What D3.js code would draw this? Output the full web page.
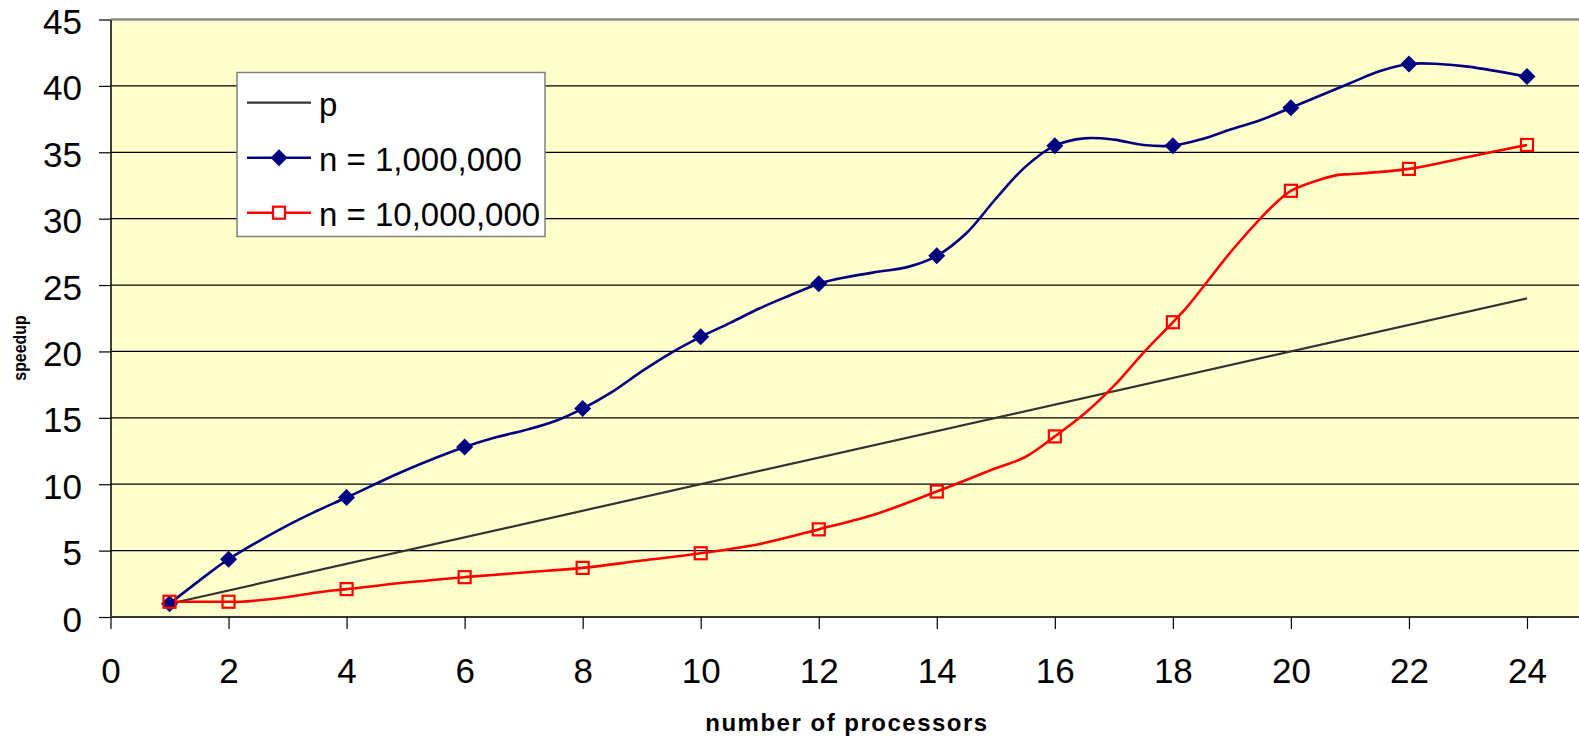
<!DOCTYPE html>
<html>
<head>
<meta charset="utf-8">
<script src="https://cdn.jsdelivr.net/npm/d3@7"></script>
<style>
  html, body { margin: 0; padding: 0; background: #ffffff; }
  svg { display: block; font-family: "Liberation Sans", Arial, Helvetica, sans-serif; }
</style>
</head>
<body>
<svg id="chart" width="1579" height="740"></svg>
<script>
// Processor counts and measured speedups
const idealP = [1, 24];

const smallProcs = [1, 1.7, 2, 3, 3.5, 4, 5, 6, 6.5, 7, 7.5, 8, 8.5, 9, 9.5, 10, 10.5, 11, 11.5, 12,
  12.25, 13, 13.5, 14, 14.5, 15, 15.5, 16, 16.5, 17, 17.5, 18, 18.5, 19, 19.5, 20, 21, 21.5, 22, 22.5, 23, 24];
const smallSpeedup = [1.0, 3.4, 4.35, 6.9, 8.0, 9.0, 11.05, 12.8, 13.5, 14.05, 14.7, 15.7, 16.95, 18.5, 19.9, 21.1, 22.15, 23.25, 24.2, 25.1,
  25.4, 26.0, 26.35, 27.2, 28.9, 31.5, 33.9, 35.5, 36.05, 35.95, 35.55, 35.5, 36.0, 36.75, 37.45, 38.35, 40.2, 41.1, 41.65, 41.65, 41.45, 40.7];

const largeProcs = [1, 2, 2.2, 3, 3.5, 4, 5, 6, 7, 8, 9, 10, 11, 12, 13, 14, 15, 15.5, 16, 16.5, 17, 17.5, 18, 18.25,
  19, 19.5, 19.75, 20, 20.5, 20.8, 21, 22, 23, 24];
const largeSpeedup = [1.15, 1.15, 1.15, 1.5, 1.85, 2.1, 2.6, 3.0, 3.35, 3.7, 4.25, 4.8, 5.5, 6.6, 7.8, 9.45, 11.2, 12.05, 13.6, 15.3, 17.4, 19.9, 22.2, 23.4,
  27.6, 30.1, 31.2, 32.1, 32.95, 33.3, 33.35, 33.75, 34.65, 35.55];

// Processor counts that carry a marker
const markedProcs = [1, 2, 4, 6, 8, 10, 12, 14, 16, 18, 20, 22, 24];

const xTicks = [0, 2, 4, 6, 8, 10, 12, 14, 16, 18, 20, 22, 24];
const yTicks = [0, 5, 10, 15, 20, 25, 30, 35, 40, 45];

const legendLabels = ["p", "n = 1,000,000", "n = 10,000,000"];
const seriesColors = ["#333333", "#000080", "#ff0000"];

const svg = d3.select("#chart");

const plotLeft = 110.5, plotTop = 19.5, plotBottom = 617;
const x = d3.scaleLinear().domain([0, 26]).range([plotLeft, plotLeft + 26 * 59.02]);
const y = d3.scaleLinear().domain([0, 45]).range([plotBottom, plotTop]);

// plot background
svg.append("rect")
  .attr("x", plotLeft).attr("y", plotTop)
  .attr("width", 1579 - plotLeft).attr("height", plotBottom - plotTop)
  .attr("fill", "#ffffcc");

// horizontal gridlines
svg.append("g")
  .selectAll("line")
  .data(yTicks.filter(v => v > 0 && v < 45))
  .join("line")
  .attr("x1", plotLeft).attr("x2", 1579)
  .attr("y1", d => y(d)).attr("y2", d => y(d))
  .attr("stroke", "#000000").attr("stroke-width", 1.2);

// top border of the plot area
svg.append("line")
  .attr("x1", plotLeft).attr("x2", 1579)
  .attr("y1", y(45)).attr("y2", y(45))
  .attr("stroke", "#8c8c8c").attr("stroke-width", 2.5);

// axes
const yAxis = svg.append("g")
  .attr("transform", `translate(${plotLeft},0)`)
  .call(d3.axisLeft(y).tickValues(yTicks).tickSize(11.5).tickPadding(17).tickSizeOuter(0));
const xAxis = svg.append("g")
  .attr("transform", `translate(0,${plotBottom})`)
  .call(d3.axisBottom(x).tickValues(xTicks).tickSize(12).tickPadding(29).tickSizeOuter(0));

yAxis.select(".domain").attr("stroke", "#000").attr("stroke-width", 1.5);
xAxis.select(".domain").attr("stroke", "#333").attr("stroke-width", 2).attr("d", `M${plotLeft},0H1579`);
[yAxis, xAxis].forEach(a => {
  a.selectAll(".tick line").attr("stroke", "#000").attr("stroke-width", 1.2);
  a.selectAll(".tick text")
    .attr("font-family", "'Liberation Sans', Arial, sans-serif")
    .attr("font-size", 35).attr("fill", "#000");
});
yAxis.selectAll(".tick text").attr("dy", "0.4em");

// axis titles
svg.append("text")
  .attr("x", 847).attr("y", 731)
  .attr("text-anchor", "middle")
  .attr("font-size", 24).attr("font-weight", "bold")
  .attr("letter-spacing", 1.5)
  .text("number of processors");
svg.append("text")
  .attr("transform", "translate(26,348) rotate(-90) scale(0.86,1)")
  .attr("text-anchor", "middle")
  .attr("font-size", 18.5).attr("font-weight", "bold")
  .text("speedup");

// series lines
const smooth = d3.line().x(d => x(d[0])).y(d => y(d[1])).curve(d3.curveCatmullRom.alpha(0.5));
const straight = d3.line().x(d => x(d[0])).y(d => y(d[1]));

svg.append("path")
  .datum(idealP.map(p => [p, p]))
  .attr("d", straight)
  .attr("fill", "none").attr("stroke", seriesColors[0]).attr("stroke-width", 2.2);

const smallPts = smallProcs.map((p, i) => [p, smallSpeedup[i]]);
const largePts = largeProcs.map((p, i) => [p, largeSpeedup[i]]);

svg.append("path")
  .datum(smallPts)
  .attr("d", smooth)
  .attr("fill", "none").attr("stroke", seriesColors[1]).attr("stroke-width", 2.6);
svg.append("path")
  .datum(largePts)
  .attr("d", smooth)
  .attr("fill", "none").attr("stroke", seriesColors[2]).attr("stroke-width", 2.6);

// markers
const diamond = s => `M0,${-s}L${s},0L0,${s}L${-s},0Z`;
svg.append("g")
  .selectAll("path")
  .data(smallPts.filter(d => markedProcs.includes(d[0])))
  .join("path")
  .attr("transform", d => `translate(${x(d[0])},${y(d[1])})`)
  .attr("d", diamond(8.5))
  .attr("fill", seriesColors[1]);

svg.append("g")
  .selectAll("rect")
  .data(largePts.filter(d => markedProcs.includes(d[0])))
  .join("rect")
  .attr("x", d => x(d[0]) - 6).attr("y", d => y(d[1]) - 6)
  .attr("width", 12).attr("height", 12)
  .attr("fill", "none").attr("stroke", seriesColors[2]).attr("stroke-width", 2.2);

// legend
const legend = svg.append("g");
legend.append("rect")
  .attr("x", 237).attr("y", 72.5).attr("width", 308).attr("height", 164)
  .attr("fill", "#ffffff").attr("stroke", "#808080").attr("stroke-width", 1.5);

const rowY = i => 102.7 + i * 55;
legendLabels.forEach((label, i) => {
  const g = legend.append("g").attr("transform", `translate(0,${rowY(i)})`);
  g.append("line")
    .attr("x1", 247).attr("x2", 311).attr("y1", 0).attr("y2", 0)
    .attr("stroke", seriesColors[i]).attr("stroke-width", i === 0 ? 2.2 : 2.6);
  if (i === 1) {
    g.append("path").attr("transform", "translate(279,0)").attr("d", diamond(8.5)).attr("fill", seriesColors[1]);
  } else if (i === 2) {
    g.append("rect").attr("x", 273).attr("y", -6).attr("width", 12).attr("height", 12)
      .attr("fill", "#ffffff").attr("stroke", seriesColors[2]).attr("stroke-width", 2.2);
  }
  g.append("text")
    .attr("x", 319).attr("y", 0).attr("dy", "0.4em")
    .attr("font-size", 33).attr("fill", "#000")
    .text(label);
});
</script>
</body>
</html>
